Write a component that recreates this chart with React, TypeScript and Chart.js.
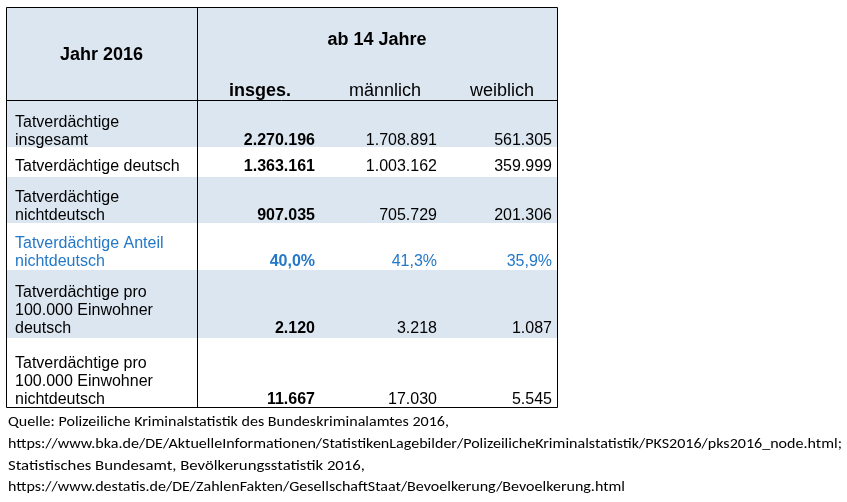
import React, { useEffect, useRef } from "react";
import { Chart, registerables } from "chart.js";

Chart.register(...registerables);

// ---------- data ----------
const titleLeft = "Jahr 2016";
const titleGroup = "ab 14 Jahre";
const columnHeaders = ["insges.", "männlich", "weiblich"];
const rowLabels: string[][] = [
  ["Tatverdächtige", "insgesamt"],
  ["Tatverdächtige deutsch"],
  ["Tatverdächtige", "nichtdeutsch"],
  ["Tatverdächtige Anteil", "nichtdeutsch"],
  ["Tatverdächtige pro", "100.000 Einwohner", "deutsch"],
  ["Tatverdächtige pro", "100.000 Einwohner", "nichtdeutsch"],
];
const insgesamt = [2270196, 1363161, 907035, 40.0, 2120, 11667];
const maennlich = [1708891, 1003162, 705729, 41.3, 3218, 17030];
const weiblich = [561305, 359999, 201306, 35.9, 1087, 5545];
const percentRow = [false, false, false, true, false, false];
const footerLines = [
  "Quelle: Polizeiliche Kriminalstatistik des Bundeskriminalamtes 2016,",
  "https://www.bka.de/DE/AktuelleInformationen/StatistikenLagebilder/PolizeilicheKriminalstatistik/PKS2016/pks2016_node.html;",
  "Statistisches Bundesamt, Bevölkerungsstatistik 2016,",
  "https://www.destatis.de/DE/ZahlenFakten/GesellschaftStaat/Bevoelkerung/Bevoelkerung.html",
];

// ---------- layout (pixel units on the linear scales) ----------
const W = 847;
const H = 502;
const tableLeft = 6;
const tableRight = 557;
const tableTop = 7;
const headerBottom = 100;
const dividerX = 197;
const rowBottoms = [147, 177, 223, 270, 338, 407];
const rowShaded = [true, false, true, false, true, false];
const lastBaselines = [145, 171, 220, 266, 333, 404];
const lineStep = 18;
const labelX = 15;
const valueRightX = [315, 437, 552];
const headerCenterX = [260, 385, 502];
const headerBaseline = 96;
const groupBaseline = 45;
const leftTitleBaseline = 60;
const footerX = 8;
const footerBaselines = [426, 448, 470, 491];
const footerWidths = [441, 834, 357, 617];

const SHADE = "#DCE6F1";
const BLUE = "#2478C8";
const FONT = '"Liberation Sans", Arial, Helvetica, sans-serif';
const FOOT_FONT = '"Carlito", "Lato", "Open Sans", sans-serif';
const HEAD_SIZE = "18px ";
const BODY_SIZE = "16px ";

function fmtDE(n: number, dec: number): string {
  const fixed = n.toFixed(dec);
  const [i, f] = fixed.split(".");
  const intPart = i.replace(/\B(?=(\d{3})+(?!\d))/g, ".");
  return f ? intPart + "," + f : intPart;
}

const tablePlugin = {
  id: "tablePlugin",
  afterDraw(chart: any) {
    const ctx: CanvasRenderingContext2D = chart.ctx;
    const xs = chart.scales.x;
    const ys = chart.scales.y;
    const px = (v: number) => xs.getPixelForValue(v);
    const py = (v: number) => ys.getPixelForValue(v);

    ctx.save();
    // backgrounds
    ctx.fillStyle = SHADE;
    ctx.fillRect(px(tableLeft), py(tableTop), px(tableRight) - px(tableLeft), py(headerBottom) - py(tableTop));
    let top = headerBottom;
    rowBottoms.forEach((b, i) => {
      if (rowShaded[i]) {
        ctx.fillStyle = SHADE;
        ctx.fillRect(px(tableLeft), py(top), px(tableRight) - px(tableLeft), py(b) - py(top));
      }
      top = b;
    });

    // lines
    ctx.strokeStyle = "#000";
    ctx.lineWidth = 1;
    const bottom = rowBottoms[rowBottoms.length - 1];
    ctx.beginPath();
    ctx.rect(px(tableLeft) + 0.5, py(tableTop) + 0.5, px(tableRight) - px(tableLeft), py(bottom) - py(tableTop));
    ctx.moveTo(px(dividerX) + 0.5, py(tableTop));
    ctx.lineTo(px(dividerX) + 0.5, py(bottom));
    ctx.moveTo(px(tableLeft), py(headerBottom) + 0.5);
    ctx.lineTo(px(tableRight), py(headerBottom) + 0.5);
    ctx.stroke();

    // header text
    ctx.fillStyle = "#000";
    ctx.textBaseline = "alphabetic";
    ctx.font = "bold " + HEAD_SIZE + FONT;
    ctx.textAlign = "center";
    ctx.fillText(titleLeft, px((tableLeft + dividerX) / 2), py(leftTitleBaseline));
    ctx.fillText(titleGroup, px((dividerX + tableRight) / 2), py(groupBaseline));
    columnHeaders.forEach((h, c) => {
      ctx.font = (c === 0 ? "bold " : "") + HEAD_SIZE + FONT;
      ctx.fillText(h, px(headerCenterX[c]), py(headerBaseline));
    });

    // rows
    const cols = [insgesamt, maennlich, weiblich];
    rowLabels.forEach((lines, r) => {
      const color = percentRow[r] ? BLUE : "#000";
      ctx.fillStyle = color;
      ctx.textAlign = "left";
      ctx.font = BODY_SIZE + FONT;
      const n = lines.length;
      lines.forEach((ln, k) => {
        ctx.fillText(ln, px(labelX), py(lastBaselines[r] - (n - 1 - k) * lineStep));
      });
      ctx.textAlign = "right";
      cols.forEach((col, c) => {
        ctx.font = (c === 0 ? "bold " : "") + BODY_SIZE + FONT;
        const v = col[r];
        const txt = percentRow[r] ? fmtDE(v, 1) + "%" : fmtDE(v, 0);
        ctx.fillText(txt, px(valueRightX[c]), py(lastBaselines[r]));
      });
    });

    // footer
    ctx.fillStyle = "#000";
    ctx.textAlign = "left";
    ctx.font = "15px " + FOOT_FONT;
    footerLines.forEach((ln, i) => {
      const m = ctx.measureText(ln).width;
      const sx = footerWidths[i] / m;
      ctx.save();
      ctx.translate(px(footerX), py(footerBaselines[i]));
      ctx.scale(sx, 1);
      ctx.fillText(ln, 0, 0);
      ctx.restore();
    });
    ctx.restore();
  },
};

export default function App() {
  const ref = useRef<HTMLCanvasElement | null>(null);
  useEffect(() => {
    document.body.style.margin = "0";
    const canvas = ref.current;
    if (!canvas) return;
    const chart = new Chart(canvas, {
      type: "scatter",
      data: { datasets: [{ data: [], pointRadius: 0 }] },
      options: {
        animation: false,
        responsive: false,
        maintainAspectRatio: false,
        layout: { padding: 0 },
        plugins: { legend: { display: false }, tooltip: { enabled: false } },
        scales: {
          x: { type: "linear", min: 0, max: W, display: false },
          y: { type: "linear", min: 0, max: H, reverse: true, display: false },
        },
      },
      plugins: [tablePlugin],
    });
    return () => chart.destroy();
  }, []);
  return (
    <div style={{ width: W, height: H, background: "#fff" }}>
      <canvas ref={ref} width={W} height={H} style={{ display: "block" }} />
    </div>
  );
}
